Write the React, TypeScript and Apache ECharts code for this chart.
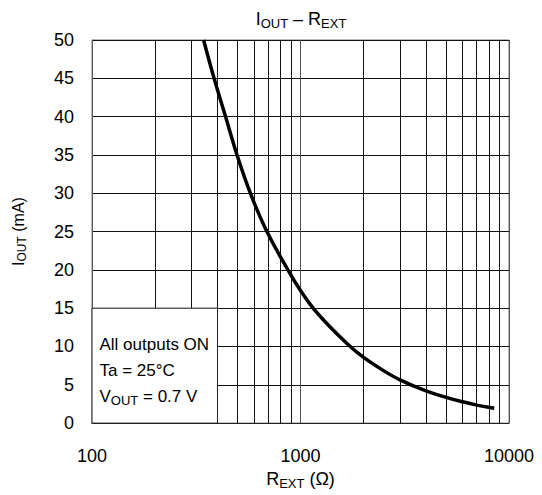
import React, { useEffect, useRef } from "react";
import * as echarts from "echarts";

// Curve I_OUT vs R_EXT
const rExt = [343, 385, 437, 496, 575, 690, 870, 1000, 1150, 1380, 1700, 2000, 2500, 3000, 4000, 5000, 6000, 7000, 8000, 8500];
const iOut = [50, 45, 40, 35, 30, 25, 20, 17.3, 15, 12.6, 10.2, 8.6, 6.85, 5.65, 4.2, 3.35, 2.78, 2.35, 2.05, 1.95];

// Minor log grid values
const minorGrid = [200, 300, 400, 500, 600, 700, 800, 900, 2000, 3000, 4000, 5000, 6000, 7000, 8000, 9000];

// Condition box extent (data coords)
const boxX = [100, 400];
const boxY = [0, 15];
const boxLines = ["All outputs ON", "Ta = 25°C"];

const FONT = "'Liberation Sans', Arial, Helvetica, sans-serif";

export default function App() {
  const ref = useRef<HTMLDivElement>(null);
  useEffect(() => {
    if (!ref.current) return;
    const chart = echarts.init(ref.current, null, { renderer: "svg" });
    const lineData = rExt.map((r, i) => [r, iOut[i]]);
    const minorLines = minorGrid.map((v) =>
      v < boxX[1]
        ? [{ coord: [v, boxY[1]] }, { coord: [v, 50] }]
        : [{ coord: [v, 0] }, { coord: [v, 50] }]
    );
    const sub = { fontSize: 13, fontFamily: FONT, color: "#000", verticalAlign: "bottom", padding: [0, 0, -2, 0] };
    chart.setOption({
      animation: false,
      backgroundColor: "#fff",
      textStyle: { fontFamily: FONT },
      grid: { left: 92, right: 33, top: 40, bottom: 69, show: true, borderColor: "#777", borderWidth: 1 },
      graphic: [
        {
          type: "text",
          x: 301,
          y: 19,
          style: {
            text: "{i|I}{s|OUT}{i| – R}{s|EXT}",
            align: "center",
            verticalAlign: "middle",
            rich: {
              i: { fontSize: 18, fontFamily: FONT, color: "#000", verticalAlign: "bottom" },
              s: sub,
            },
          },
        },
      ],
      xAxis: {
        type: "log",
        logBase: 10,
        min: 100,
        max: 10000,
        name: "{i|R}{s|EXT}{i| (Ω)}",
        nameLocation: "middle",
        nameGap: 42,
        nameTextStyle: {
          rich: {
            i: { fontSize: 18, fontFamily: FONT, color: "#000", verticalAlign: "bottom" },
            s: sub,
          },
        },
        axisLine: { show: true, lineStyle: { color: "#222", width: 1 } },
        axisTick: { show: false },
        axisLabel: { fontSize: 18, color: "#000", margin: 24, fontFamily: FONT, formatter: (v: number) => String(Math.round(v)) },
        splitLine: { show: true, lineStyle: { color: "#555", width: 1 } },
        minorTick: { show: false },
        minorSplitLine: { show: false },
      },
      yAxis: {
        type: "value",
        min: 0,
        max: 50,
        interval: 5,
        name: "{i|I}{s|OUT}{i| (mA)}",
        nameLocation: "middle",
        nameRotate: 90,
        nameGap: 66,
        nameTextStyle: {
          rich: {
            i: { fontSize: 16, fontFamily: FONT, color: "#000", verticalAlign: "bottom" },
            s: { ...sub, fontSize: 12 },
          },
        },
        axisLine: { show: true, lineStyle: { color: "#555", width: 1 } },
        axisTick: { show: false },
        axisLabel: { fontSize: 18, color: "#000", margin: 18, fontFamily: FONT },
        splitLine: { show: true, lineStyle: { color: "#111", width: 1 } },
      },
      series: [
        {
          type: "line",
          data: lineData,
          smooth: 0.4,
          symbol: "none",
          z: 5,
          lineStyle: { color: "#000", width: 3.5 },
          markLine: {
            silent: true,
            symbol: "none",
            animation: false,
            label: { show: false },
            lineStyle: { color: "#111", width: 1, type: "solid" },
            emphasis: { disabled: true },
            data: minorLines,
          },
          markArea: {
            silent: true,
            z: 10,
            itemStyle: { color: "#fff", borderColor: "#222", borderWidth: 1 },
            label: {
              show: true,
              position: "insideLeft",
              distance: 8,
              lineHeight: 26,
              formatter: `{a|${boxLines[0]}}\n{a|${boxLines[1]}}\n{a|V}{s|OUT}{a| = 0.7 V}`,
              rich: {
                a: { fontSize: 17, fontFamily: FONT, color: "#000", lineHeight: 26, verticalAlign: "bottom" },
                s: { fontSize: 13, fontFamily: FONT, color: "#000", lineHeight: 26, verticalAlign: "bottom", padding: [0, 0, -2, 0] },
              },
            },
            data: [[{ coord: [boxX[0], boxY[0]] }, { coord: [boxX[1], boxY[1]] }]],
          },
        },
      ],
    });
    return () => chart.dispose();
  }, []);
  return <div ref={ref} style={{ position: "fixed", left: 0, top: 0, width: 542, height: 495 }} />;
}
